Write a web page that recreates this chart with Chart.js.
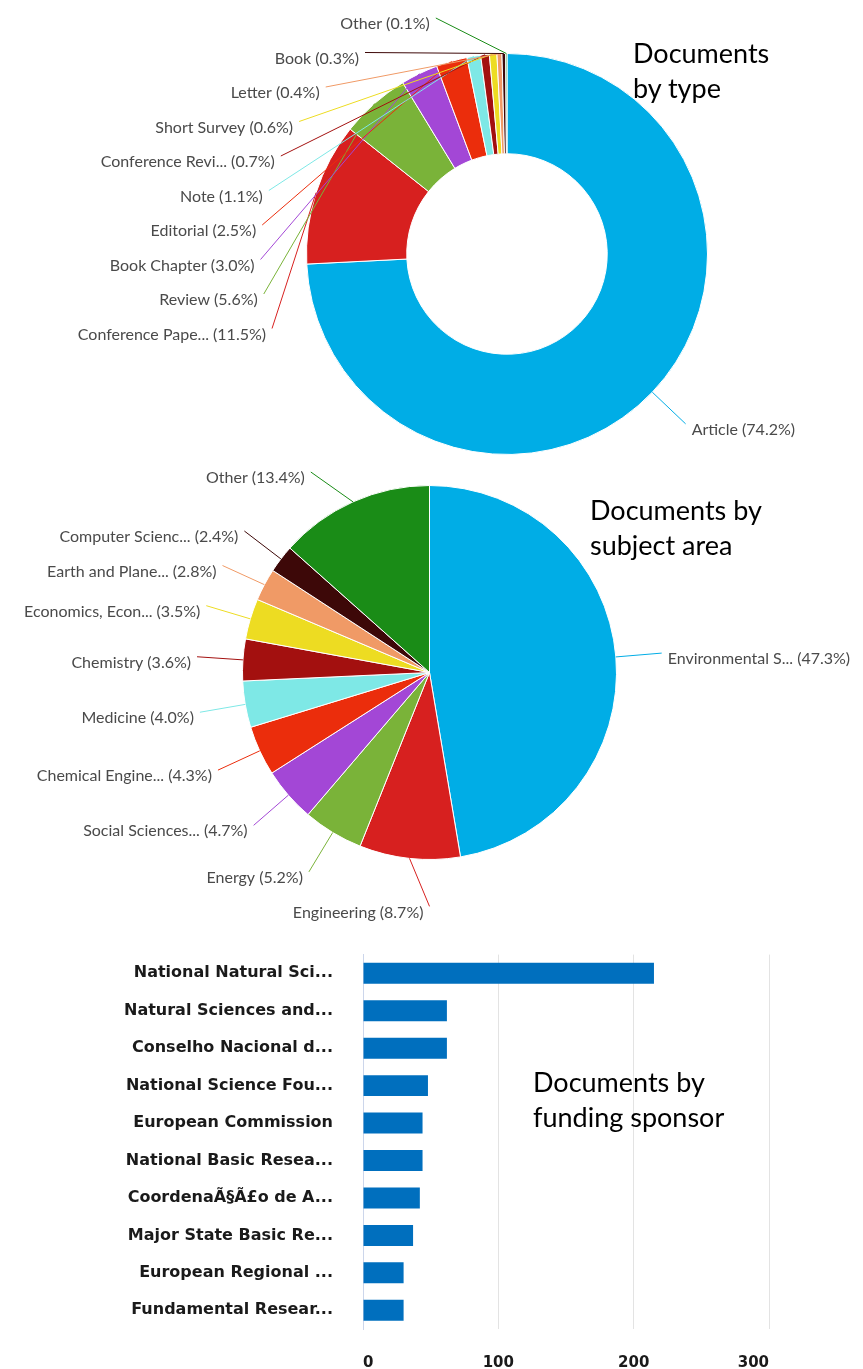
<!DOCTYPE html>
<html>
<head>
<meta charset="utf-8">
<script src="https://cdn.jsdelivr.net/npm/chart.js@4.4.1/dist/chart.umd.min.js"></script>
<style>
  body { margin: 0; background: #fff; }
  #page { position: relative; width: 863px; height: 1369px; overflow: hidden; }
  canvas { position: absolute; left: 0; }
  .title { position: absolute; font-family: Lato, sans-serif; font-size: 27px; line-height: 35px; color: #000; white-space: nowrap; }
  #sponsorChart { filter: blur(0.4px); }
</style>
</head>
<body>
<div id="page">
  <canvas id="typeChart" width="863" height="460" style="top:0"></canvas>
  <canvas id="subjectChart" width="863" height="480" style="top:460px"></canvas>
  <canvas id="sponsorChart" width="863" height="454" style="top:915px"></canvas>
  <div class="title" style="left:633px;top:35px">Documents<br>by type</div>
  <div class="title" style="left:590px;top:492px">Documents by<br>subject area</div>
  <div class="title" style="left:533px;top:1064px">Documents by<br>funding sponsor</div>
</div>
<script>
// shared slice palette
const palette = [
    '#00ade6', '#d7201f', '#7ab339', '#a347d6', '#eb2d0c', '#7ee8e6',
    '#a3100f', '#eddc22', '#f09a66', '#3d0808', '#1a8c17'
];

const typeLabels = ['Article', 'Conference Pape...', 'Review', 'Book Chapter', 'Editorial', 'Note',
    'Conference Revi...', 'Short Survey', 'Letter', 'Book', 'Other'];
const typeValues = [74.2, 11.5, 5.6, 3.0, 2.5, 1.1, 0.7, 0.6, 0.4, 0.3, 0.1];

const subjectLabels = ['Environmental S...', 'Engineering', 'Energy', 'Social Sciences...',
    'Chemical Engine...', 'Medicine', 'Chemistry', 'Economics, Econ...', 'Earth and Plane...',
    'Computer Scienc...', 'Other'];
const subjectValues = [47.3, 8.7, 5.2, 4.7, 4.3, 4.0, 3.6, 3.5, 2.8, 2.4, 13.4];

const sponsorLabels = ['National Natural Sci...', 'Natural Sciences and...', 'Conselho Nacional d...',
    'National Science Fou...', 'European Commission', 'National Basic Resea...',
    'CoordenaÃ§Ã£o de A...', 'Major State Basic Re...', 'European Regional ...', 'Fundamental Resear...'];
const sponsorValues = [215, 62, 62, 48, 44, 44, 42, 37, 30, 30];
const sponsorTicks = [0, 100, 200, 300];

// labels outside the pie with a connector to each slice, stacked per side
const outsideLabels = {
    id: 'outsideLabels',
    afterDatasetsDraw(chart, args, opts) {
        const ctx = chart.ctx;
        const ds = chart.data.datasets[0];
        const arcs = chart.getDatasetMeta(0).data;
        if (!arcs.length) return;
        const cx = arcs[0].x, cy = arcs[0].y, r = arcs[0].outerRadius;
        const R = r + opts.distance;

        const items = arcs.map((arc, i) => {
            const mid = (arc.startAngle + arc.endAngle) / 2;
            return {
                mid: mid,
                left: Math.cos(mid) < 0,
                y: cy + R * Math.sin(mid),
                text: chart.data.labels[i] + ' (' + ds.data[i].toFixed(1) + '%)',
                color: ds.backgroundColor[i]
            };
        });

        [true, false].forEach(side => {
            const group = items.filter(d => d.left === side).sort((a, b) => a.y - b.y);
            for (let k = 0; k < group.length; k++) {
                const floor = k ? group[k - 1].y + opts.spacing : opts.minY;
                group[k].y = Math.max(group[k].y, floor);
            }
            for (let k = group.length - 1; k >= 0; k--) {
                const ceil = k < group.length - 1 ? group[k + 1].y - opts.spacing : opts.maxY;
                group[k].y = Math.min(group[k].y, ceil);
            }
        });

        ctx.save();
        ctx.font = opts.font;
        ctx.textBaseline = 'middle';
        items.forEach(d => {
            const dy = d.y - cy;
            const dx = Math.sqrt(Math.max(R * R - dy * dy, 0));
            const x = d.left ? cx - dx : cx + dx;
            ctx.strokeStyle = d.color;
            ctx.lineWidth = 1;
            ctx.beginPath();
            ctx.moveTo(x, d.y);
            ctx.lineTo(cx + r * Math.cos(d.mid), cy + r * Math.sin(d.mid));
            ctx.stroke();
            ctx.fillStyle = opts.color;
            ctx.textAlign = d.left ? 'right' : 'left';
            ctx.fillText(d.text, d.left ? x - opts.gap : x + opts.gap, d.y + opts.textDy);
        });
        ctx.restore();
    }
};

const pieOptions = (padding, minY) => ({
    responsive: false,
    animation: false,
    layout: { padding: padding },
    plugins: {
        legend: { display: false },
        tooltip: { enabled: false },
        outsideLabels: {
            distance: 46,
            spacing: 34.5,
            minY: minY,
            maxY: 452,
            gap: 6,
            textDy: 6,
            font: '16px Lato',
            color: '#4a4a4a'
        }
    }
});

const typeChart = new Chart(document.getElementById('typeChart'), {
    type: 'doughnut',
    data: {
        labels: typeLabels,
        datasets: [{
            data: typeValues,
            backgroundColor: palette,
            borderColor: '#ffffff',
            borderWidth: 1,
            hoverOffset: 0
        }]
    },
    options: Object.assign(pieOptions({ left: 306, right: 155, top: 53, bottom: 5 }, 18), { cutout: '50%' }),
    plugins: [outsideLabels]
});

const subjectChart = new Chart(document.getElementById('subjectChart'), {
    type: 'pie',
    data: {
        labels: subjectLabels,
        datasets: [{
            data: subjectValues,
            backgroundColor: palette,
            borderColor: '#ffffff',
            borderWidth: 1,
            hoverOffset: 0
        }]
    },
    options: pieOptions({ left: 242, right: 246, top: 25, bottom: 80 }, 12),
    plugins: [outsideLabels]
});

const sponsorChart = new Chart(document.getElementById('sponsorChart'), {
    type: 'bar',
    data: {
        labels: sponsorLabels,
        datasets: [{
            data: sponsorValues,
            backgroundColor: '#006fbe',
            categoryPercentage: 1,
            barPercentage: 0.56
        }]
    },
    options: {
        indexAxis: 'y',
        responsive: false,
        animation: false,
        layout: { padding: { top: 14, right: 94, bottom: 0, left: 0 } },
        scales: {
            x: {
                min: sponsorTicks[0],
                max: sponsorTicks[sponsorTicks.length - 1],
                afterBuildTicks: scale => { scale.ticks = sponsorTicks.map(v => ({ value: v })); },
                afterFit: scale => { scale.height = 40; },
                grid: { color: '#e3e3e3', lineWidth: 1, drawTicks: false },
                border: { display: false },
                ticks: {
                    align: 'inner',
                    padding: 25,
                    color: '#1a1a1a',
                    font: { family: 'DejaVu Sans', size: 15, weight: 'bold' }
                }
            },
            y: {
                afterFit: scale => { scale.width = 363; },
                grid: { display: false, drawTicks: false },
                border: { display: true, color: '#ccd6eb', width: 1 },
                ticks: {
                    padding: 30,
                    color: '#1a1a1a',
                    font: { family: 'DejaVu Sans', size: 16, weight: 'bold' }
                }
            }
        },
        plugins: {
            legend: { display: false },
            tooltip: { enabled: false }
        }
    }
});
</script>
</body>
</html>
